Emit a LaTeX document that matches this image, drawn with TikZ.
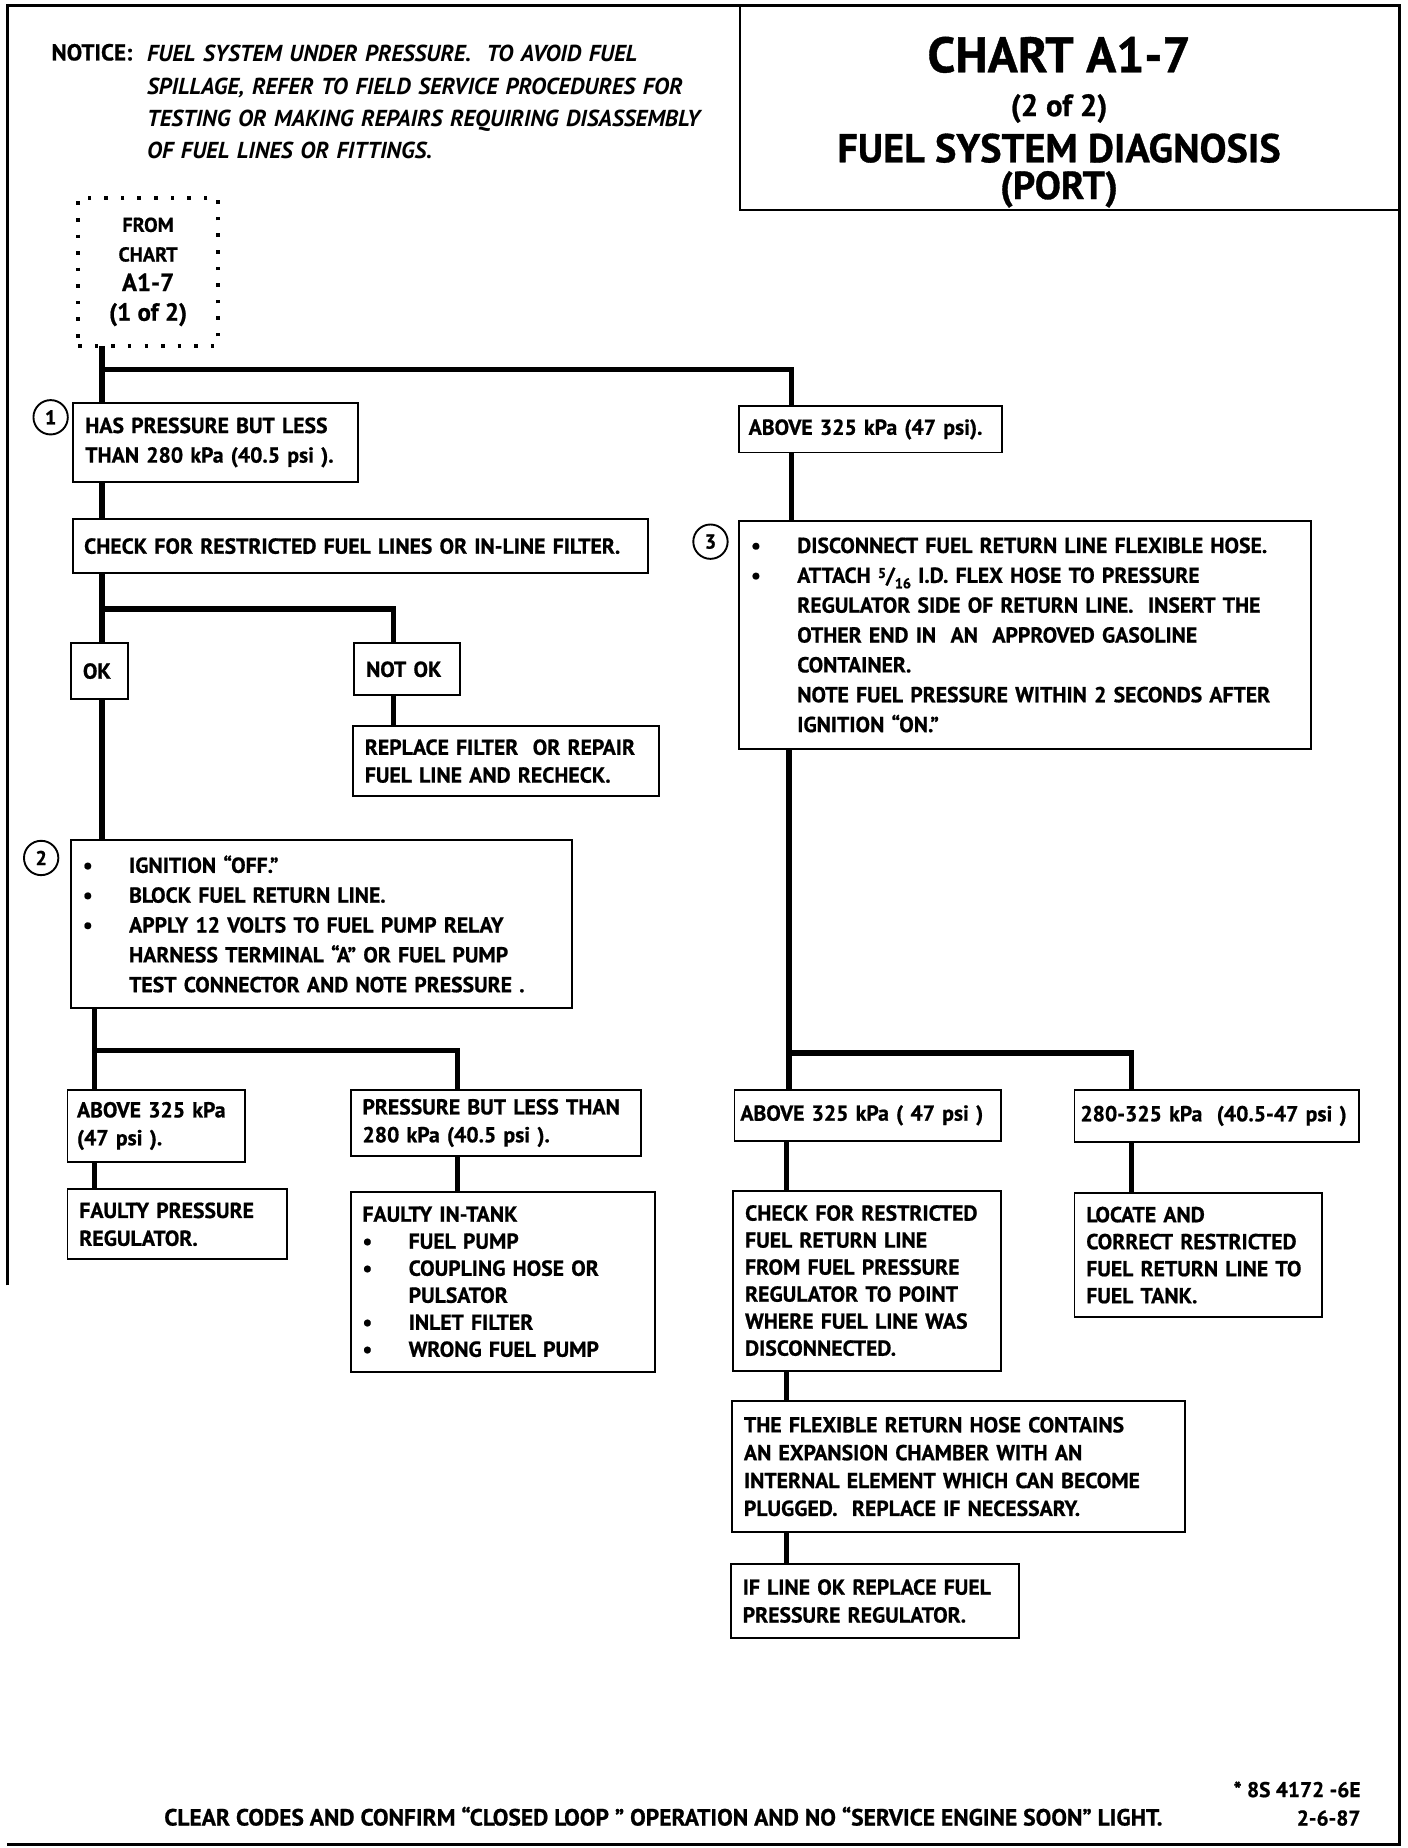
\documentclass[tikz,border=0pt]{standalone}
\usepackage{fontspec}
\setmainfont{PT Sans}[BoldFeatures={FakeBold=0.8}]
\usepackage{tikz}
\usetikzlibrary{positioning}

\newcommand{\bul}{\makebox[39pt][l]{\textbullet}}
\newcommand{\ind}{\hspace*{39pt}}

\begin{document}
\begin{tikzpicture}[
    x=1pt, y=-1pt,
    box/.style={rectangle, draw, line width=1.6pt, outer sep=0pt, inner xsep=10pt, inner ysep=3pt, text width=#1, align=left, font=\bfseries\fontsize{18.3}{23.5}\selectfont},
    link/.style={line width=4.5pt},
    num/.style={circle, draw, line width=1.6pt, outer sep=0pt, minimum size=29pt, inner sep=0pt, font=\bfseries\fontsize{17}{17}\selectfont},
    src/.style={rectangle, draw, line width=3pt, outer sep=0pt, dash pattern=on 3pt off 11pt, minimum width=118pt, minimum height=125pt, align=center, inner sep=0pt, font=\bfseries\fontsize{17}{25}\selectfont},
    ttl/.style={anchor=base, inner sep=0pt}
]
\useasboundingbox (0,0) rectangle (1188,1560);

% Frame
\draw[line width=2.5pt] (6,1085) -- (6,5) -- (1181,5) -- (1181,1557) -- (6,1557);

% Title and notice
\node[draw, line width=1.6pt, outer sep=0pt, minimum width=556pt, minimum height=172pt, inner sep=0pt, anchor=north west] (ttlbox) at (625,5) {};
\node[ttl, font=\bfseries\fontsize{42}{42}\selectfont] (ttl1) at ([xshift=-9pt, yshift=-56pt]ttlbox.north) {CHART A1-7};
\node[ttl, font=\bfseries\fontsize{26}{26}\selectfont] (ttl2) at ([xshift=-9pt, yshift=-93pt]ttlbox.north) {(2 of 2)};
\node[ttl, font=\bfseries\fontsize{34}{34}\selectfont] (ttl3) at ([xshift=-9pt, yshift=-132pt]ttlbox.north) {FUEL SYSTEM DIAGNOSIS};
\node[ttl, font=\bfseries\fontsize{33}{33}\selectfont] (ttl4) at ([xshift=-9pt, yshift=-163pt]ttlbox.north) {(PORT)};

\node[anchor=base west, font=\bfseries\fontsize{19.5}{27.3}\selectfont] (notice) at (40,51) {NOTICE:};
\node[anchor=north west, inner sep=0pt, text width=560pt, align=left, font=\bfseries\itshape\fontsize{19.5}{27.3}\selectfont] (warn) at (124,38)
  {FUEL SYSTEM UNDER PRESSURE.\ \ TO AVOID FUEL\\SPILLAGE, REFER TO FIELD SERVICE PROCEDURES FOR\\TESTING OR MAKING REPAIRS REQUIRING DISASSEMBLY\\OF FUEL LINES OR FITTINGS.};

% Entry
\node[src, anchor=north west] (src) at (66,167) {FROM\\CHART\\{\fontsize{21}{25}\selectfont A1-7}\\{\fontsize{21}{25}\selectfont (1 of 2)}};

% Left branch
\node[box=220pt, minimum height=67pt, font=\bfseries\fontsize{18.3}{25}\selectfont, below=48pt of src.south west, xshift=-4pt, anchor=north west] (has) {HAS PRESSURE BUT LESS\\THAN 280 kPa (40.5 psi ).};
\node[box=467pt, minimum height=46pt, inner xsep=9pt, below=31pt of has.south west, anchor=north west] (chk) {CHECK FOR RESTRICTED FUEL LINES OR IN-LINE FILTER.};
\node[box=28pt, minimum height=47pt, below=59pt of chk.south west, xshift=-2pt, anchor=north west] (ok) {OK};
\node[box=69pt, minimum height=44pt, right=191pt of ok.north east, anchor=north west] (notok) {NOT OK};
\node[box=238pt, minimum height=59pt, below=26pt of notok.south west, xshift=-1pt, anchor=north west] (repl) {REPLACE FILTER\ \ OR REPAIR\\FUEL LINE AND RECHECK.};
\node[box=403pt, minimum height=142pt, font=\bfseries\fontsize{18.3}{25.2}\selectfont, below=119pt of ok.south west, anchor=north west] (steps2)
  {\bul IGNITION “OFF.”\\\bul BLOCK FUEL RETURN LINE.\\\bul APPLY 12 VOLTS TO FUEL PUMP RELAY\\\ind HARNESS TERMINAL “A” OR FUEL PUMP\\\ind TEST CONNECTOR AND NOTE PRESSURE .};
\node[box=134pt, minimum height=61pt, inner xsep=8pt, below=69pt of steps2.south west, xshift=-3pt, anchor=north west] (hi1) {ABOVE 325 kPa\\(47 psi ).};
\node[box=165pt, minimum height=59pt, below=23pt of hi1.south west, anchor=north west] (regl) {FAULTY PRESSURE\\REGULATOR.};
\node[box=225pt, minimum height=56pt, right=89pt of hi1.north east, anchor=north west] (low1) {PRESSURE BUT LESS THAN\\280 kPa (40.5 psi ).};
\node[box=237pt, minimum height=152pt, font=\bfseries\fontsize{18.3}{22.8}\selectfont, below=30pt of low1.south west, anchor=north west] (tank)
  {FAULTY IN-TANK\\\bul FUEL PUMP\\\bul COUPLING HOSE OR\\\ind PULSATOR\\\bul INLET FILTER\\\bul WRONG FUEL PUMP};

% Right branch
\node[box=206pt, minimum height=39pt, inner xsep=8pt, right=322pt of has.north east, yshift=-3pt, anchor=north west] (hi0) {ABOVE 325 kPa (47 psi).};
\node[box=463pt, minimum height=192pt, font=\bfseries\fontsize{18.3}{25.2}\selectfont, below=58pt of hi0.south west, anchor=north west] (steps3)
  {\bul DISCONNECT FUEL RETURN LINE FLEXIBLE HOSE.\\\bul ATTACH \raisebox{0.45ex}{\fontsize{12}{12}\selectfont 5}/\raisebox{-0.5ex}{\fontsize{12}{12}\selectfont 16} I.D. FLEX HOSE TO PRESSURE\\\ind REGULATOR SIDE OF RETURN LINE.\ \ INSERT THE\\\ind OTHER END IN\ \ AN\ \ APPROVED GASOLINE\\\ind CONTAINER.\\\ind NOTE FUEL PRESSURE WITHIN 2 SECONDS AFTER\\\ind IGNITION “ON.”};
\node[box=215pt, minimum height=43pt, inner xsep=5pt, below=288pt of steps3.south west, xshift=-4pt, anchor=north west] (hi2) {ABOVE 325 kPa ( 47 psi )};
\node[box=230pt, minimum height=44pt, inner xsep=5pt, right=62pt of hi2.north east, anchor=north west] (mid2) {280-325 kPa\ \ (40.5-47 psi )};
\node[box=206pt, minimum height=152pt, font=\bfseries\fontsize{18.3}{22.8}\selectfont, below=42pt of hi2.south west, xshift=-1pt, anchor=north west] (retl)
  {CHECK FOR RESTRICTED\\FUEL RETURN LINE\\FROM FUEL PRESSURE\\REGULATOR TO POINT\\WHERE FUEL LINE WAS\\DISCONNECTED.};
\node[box=189pt, minimum height=105pt, font=\bfseries\fontsize{18.3}{22.8}\selectfont, below=43pt of mid2.south west, anchor=north west] (locate)
  {LOCATE AND\\CORRECT RESTRICTED\\FUEL RETURN LINE TO\\FUEL TANK.};
\node[box=362pt, minimum height=110pt, below=26pt of retl.south west, xshift=-1pt, anchor=north west] (hose)
  {THE FLEXIBLE RETURN HOSE CONTAINS\\AN EXPANSION CHAMBER WITH AN\\INTERNAL ELEMENT WHICH CAN BECOME\\PLUGGED.\ \ REPLACE IF NECESSARY.};
\node[box=223pt, minimum height=63pt, below=27pt of hose.south west, xshift=-1pt, anchor=north west] (repreg) {IF LINE OK REPLACE FUEL\\PRESSURE REGULATOR.};

% Step numbers
\node[num, left=9pt of has.north west, yshift=-2pt, anchor=north east] (n1) {1};
\node[num, left=15pt of steps2.north west, yshift=-5pt, anchor=north east] (n2) {2};
\node[num, left=14pt of steps3.north west, yshift=-7pt, anchor=north east] (n3) {3};

% Footer
\node[anchor=base east, font=\bfseries\fontsize{18}{18}\selectfont] (code) at (1152,1517) {* 8S 4172 -6E};
\node[anchor=base east, font=\bfseries\fontsize{18}{18}\selectfont] (date) at (1152,1541) {2-6-87};
\node[anchor=base, font=\bfseries\fontsize{19.8}{19.8}\selectfont] (clear) at (560,1541) {CLEAR CODES AND CONFIRM “CLOSED LOOP ” OPERATION AND NO “SERVICE ENGINE SOON” LIGHT.};

% Links - entry
\coordinate (fork0) at ([xshift=20pt, yshift=-20pt]src.south west);
\draw[link] ([xshift=20pt]src.south west) -- ([xshift=24pt]has.north west);
\draw[link] (fork0) -| ([xshift=44pt]hi0.north west);

% Links - left branch
\coordinate (fork1) at ([xshift=24pt, yshift=-30pt]chk.south west);
\coordinate (fork2) at ([xshift=20pt, yshift=-36pt]steps2.south west);
\draw[link] ([xshift=24pt]has.south west) -- ([xshift=24pt]chk.north west);
\draw[link] ([xshift=24pt]chk.south west) -- ([xshift=26pt]ok.north west);
\draw[link] (fork1) -| ([xshift=33pt]notok.north west);
\draw[link] ([xshift=33pt]notok.south west) -- ([xshift=34pt]repl.north west);
\draw[link] ([xshift=26pt]ok.south west) -- ([xshift=26pt]steps2.north west);
\draw[link] ([xshift=20pt]steps2.south west) -- ([xshift=23pt]hi1.north west);
\draw[link] (fork2) -| ([xshift=90pt]low1.north west);
\draw[link] ([xshift=23pt]hi1.south west) -- ([xshift=23pt]regl.north west);
\draw[link] ([xshift=90pt]low1.south west) -- ([xshift=90pt]tank.north west);

% Links - right branch
\coordinate (fork3) at ([xshift=42pt, yshift=-257pt]steps3.south west);
\draw[link] ([xshift=44pt]hi0.south west) -- ([xshift=44pt]steps3.north west);
\draw[link] ([xshift=42pt]steps3.south west) -- ([xshift=46pt]hi2.north west);
\draw[link] (fork3) -| ([xshift=48pt]mid2.north west);
\draw[link] ([xshift=44pt]hi2.south west) -- ([xshift=45pt]retl.north west);
\draw[link] ([xshift=48pt]mid2.south west) -- ([xshift=48pt]locate.north west);
\draw[link] ([xshift=45pt]retl.south west) -- ([xshift=46pt]hose.north west);
\draw[link] ([xshift=46pt]hose.south west) -- ([xshift=47pt]repreg.north west);
\end{tikzpicture}
\end{document}
